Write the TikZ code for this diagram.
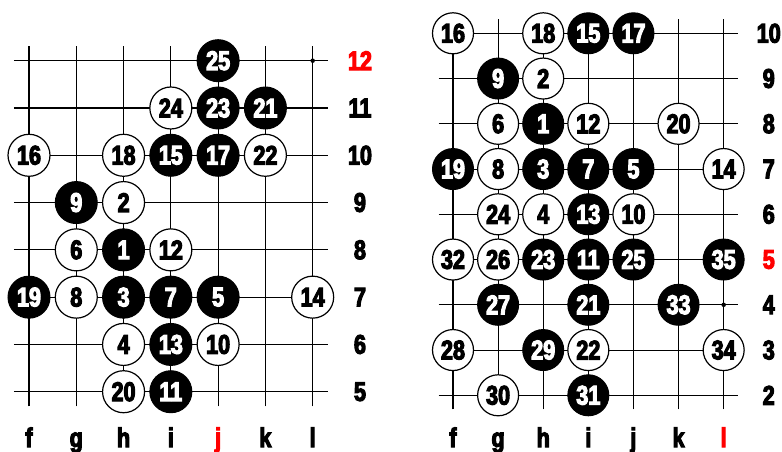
\documentclass[tikz,border=0pt]{standalone}
\usepackage{fontspec}
\newfontfamily\gofont{Liberation Sans Bold}[FakeStretch=0.8, FakeBold=4]
\definecolor{lred}{RGB}{255,0,0}
\newcommand{\stonefont}{\gofont\fontsize{27}{27}\selectfont}
\newcommand{\stonesize}{42pt}
\begin{document}
\begin{tikzpicture}[x=1pt,y=1pt,
  gridline/.style={line width=1.1pt, black},
  bstone/.style={circle, fill=black, draw=black, line width=1pt, text=white,
    minimum size=\stonesize, inner sep=0pt, font=\stonefont},
  wstone/.style={circle, fill=white, draw=black, line width=1.2pt, text=black,
    minimum size=\stonesize, inner sep=0pt, font=\stonefont},
  lab/.style={inner sep=0pt, font=\stonefont, text=black},
  hilab/.style={lab, text=lred},
  marker/.style={circle, fill=black, inner sep=0pt, minimum size=4.5pt}]
\useasboundingbox (0,0) rectangle (782,-452);
% ---------------- left diagram ----------------
\begin{scope}[shift={(29pt,-628.18pt)}, x=47.28pt, y=47.29pt]
  \foreach \r in {5,...,12} \draw[gridline] (-0.32,\r) -- (6.32,\r);
  \foreach \c in {0,...,6} \draw[gridline] (\c,4.69) -- (\c,12.31);
  \node[marker] (Ldot) at (6,12) {};
  \foreach \c/\r/\n in {4/12/25, 4/11/23, 5/11/21, 3/10/15, 4/10/17, 1/9/9,
      2/8/1, 0/7/19, 2/7/3, 3/7/7, 4/7/5, 3/6/13, 3/5/11}
    \node[bstone] (L\n) at (\c,\r) {\n};
  \foreach \c/\r/\n in {3/11/24, 0/10/16, 2/10/18, 5/10/22, 2/9/2, 1/8/6,
      3/8/12, 1/7/8, 6/7/14, 2/6/4, 4/6/10, 2/5/20}
    \node[wstone] (L\n) at (\c,\r) {\n};
  \foreach \c/\t in {0/f,1/g,2/h,3/i,5/k,6/l}
    \node[lab, anchor=base] (Lc\t) at (\c,3.831) {\t};
  \node[hilab, anchor=base] (Lcj) at (4,3.831) {j};
  \foreach \r in {5,...,11} \node[lab] (Lr\r) at (7,\r) {\r};
  \node[hilab] (Lr12) at (7,12) {12};
\end{scope}
% ---------------- right diagram ----------------
\renewcommand{\stonesize}{41pt}
\begin{scope}[shift={(453pt,-485.8pt)}, x=45.11pt, y=45.25pt]
  \foreach \r in {2,...,10} \draw[gridline] (-0.32,\r) -- (6.32,\r);
  \foreach \c in {0,...,6} \draw[gridline] (\c,1.69) -- (\c,10.31);
  \node[marker] (Rdot) at (6,4) {};
  \foreach \c/\r/\n in {3/10/15, 4/10/17, 1/9/9, 2/8/1, 0/7/19, 2/7/3, 3/7/7,
      4/7/5, 3/6/13, 2/5/23, 3/5/11, 4/5/25, 6/5/35, 1/4/27, 3/4/21, 5/4/33,
      2/3/29, 3/2/31}
    \node[bstone] (R\n) at (\c,\r) {\n};
  \foreach \c/\r/\n in {0/10/16, 2/10/18, 2/9/2, 1/8/6, 3/8/12, 5/8/20, 1/7/8,
      6/7/14, 1/6/24, 2/6/4, 4/6/10, 0/5/32, 1/5/26, 0/3/28, 3/3/22, 6/3/34,
      1/2/30}
    \node[wstone] (R\n) at (\c,\r) {\n};
  \foreach \c/\t in {0/f,1/g,2/h,3/i,4/j,5/k}
    \node[lab, anchor=base] (Rc\t) at (\c,0.857) {\t};
  \node[hilab, anchor=base] (Rcl) at (6,0.857) {l};
  \foreach \r in {2,3,4,6,7,8,9,10} \node[lab] (Rr\r) at (7,\r) {\r};
  \node[hilab] (Rr5) at (7,5) {5};
\end{scope}
\end{tikzpicture}
\end{document}
